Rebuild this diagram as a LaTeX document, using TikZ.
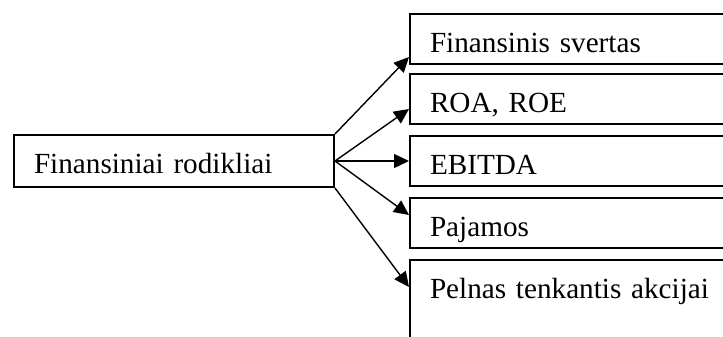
\documentclass[tikz,border=0pt]{standalone}
\usepackage{fontspec}
\setmainfont{Liberation Serif}
\usetikzlibrary{arrows.meta}

\tikzstyle{every node}=[draw, line width=1pt, anchor=north west, align=left, font={\fontsize{14.6}{17}\selectfont}, inner xsep=10pt, inner ysep=4pt, text height=15pt, text depth=2pt]
\tikzstyle{root}=[text width=140pt, text depth=3pt]
\tikzstyle{metric}=[text width=200pt]
\tikzstyle{tall}=[metric, text depth=40pt]
\tikzstyle{link}=[line width=0.7pt, -{Triangle[length=7.5pt,width=7pt]}]

\begin{document}
\begin{tikzpicture}[x=0.5pt, y=-0.5pt]
    \useasboundingbox (0,0) rectangle (723,337);
    \clip (0,0) rectangle (723,337);
    \node [root] (fin) at (13,134) {Finansiniai rodikliai};
    \node [metric] (svertas) at (409,13) {Finansinis svertas};
    \node [metric] (roa) at (409,73) {ROA, ROE};
    \node [metric] (ebitda) at (409,135) {EBITDA};
    \node [metric] (pajamos) at (409,197) {Pajamos};
    \node [tall] (pelnas) at (409,259) {Pelnas tenkantis akcijai};
    \draw [link] (fin.north east) -- ([yshift=4pt]svertas.south west);
    \draw [link] (fin.east) -- ([yshift=-5pt]roa.west);
    \draw [link] (fin.east) -- (ebitda.west);
    \draw [link] (fin.east) -- ([yshift=4pt]pajamos.west);
    \draw [link] (fin.south east) -- ([yshift=-14pt]pelnas.north west);
\end{tikzpicture}
\end{document}
